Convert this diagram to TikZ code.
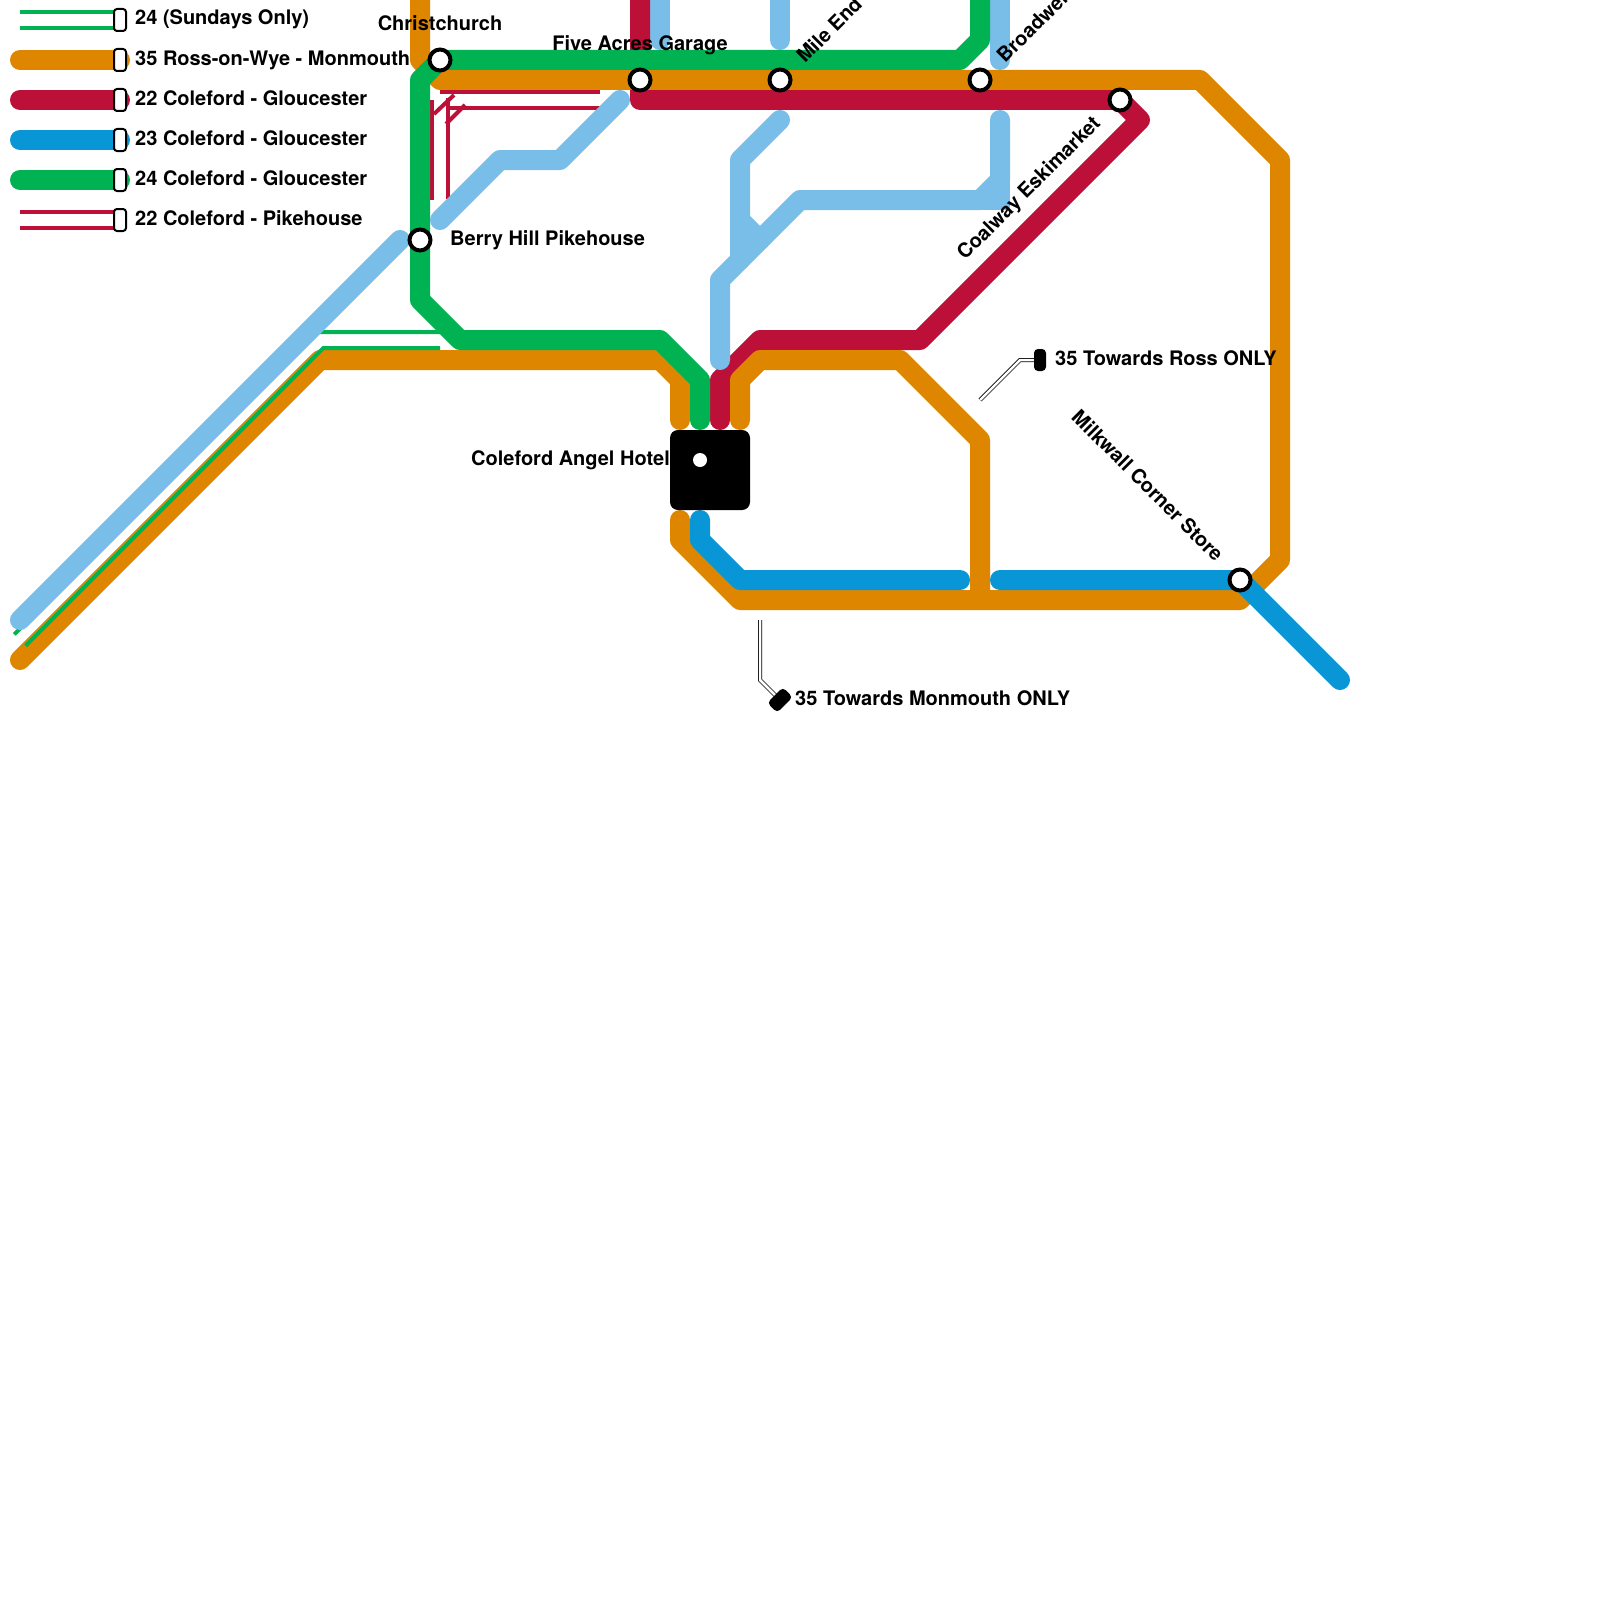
\documentclass[tikz,border=0pt]{standalone}
\usepackage{fontspec}
\setmainfont{TeX Gyre Heros}
\definecolor{lorange}{HTML}{DF8600}
\definecolor{lred}{HTML}{BD1038}
\definecolor{lblue}{HTML}{0896D7}
\definecolor{lsky}{HTML}{79BDE9}
\definecolor{lgreen}{HTML}{00B251}
\tikzset{
  route/.style={line width=20pt,line cap=round,line join=round,draw=#1},
  thinline/.style={line width=4pt,draw=#1},
  stationdot/.style={circle,draw=black,fill=white,line width=4pt,minimum size=21pt,inner sep=0pt},
  keystop/.style={rectangle,rounded corners=3pt,draw=black,fill=white,line width=2pt,minimum width=12pt,minimum height=22pt,inner sep=0pt},
  endstop/.style={rectangle,rounded corners=4pt,fill=black,minimum width=12pt,minimum height=22pt,inner sep=0pt},
  lab/.style={font=\fontsize{20}{24}\selectfont\bfseries,inner sep=0pt,text=black},
  outer/.style={line width=4pt,draw=black,line join=miter},
  inner/.style={line width=2.5pt,draw=white,line join=miter},
}
\begin{document}
\begin{tikzpicture}[x=1pt,y=-1pt]
\useasboundingbox (0,0) rectangle (1600,1600);
\fill[white] (0,0) rectangle (1600,1600);
\clip (0,0) rectangle (1600,1600);
% key
\draw[thinline=lgreen] (20,12) -- (120,12);
\draw[thinline=lgreen] (20,28) -- (120,28);
\draw[route=lorange] (20,60) -- (120,60);
\draw[route=lred] (20,100) -- (120,100);
\draw[route=lblue] (20,140) -- (120,140);
\draw[route=lgreen] (20,180) -- (120,180);
\draw[thinline=lred] (20,212) -- (120,212);
\draw[thinline=lred] (20,228) -- (120,228);
\node[keystop] (k1) at (120,20) {};
\node[keystop] (k2) at (120,60) {};
\node[keystop] (k3) at (120,100) {};
\node[keystop] (k4) at (120,140) {};
\node[keystop] (k5) at (120,180) {};
\node[keystop] (k6) at (120,220) {};
% sky stubs
\draw[route=lsky] (660,0) -- (660,40);
\draw[route=lsky] (780,0) -- (780,40);
\draw[route=lsky] (1000,0) -- (1000,60);
% red thin double
\draw[thinline=lred] (432,100) -- (432,200);
\draw[thinline=lred] (448,98) -- (448,199);
\draw[thinline=lred] (440,92) -- (600,92);
\draw[thinline=lred] (447,108) -- (600,108);
\draw[thinline=lred] (434,114) -- (454,95);
\draw[thinline=lred] (446,124) -- (465,105);
% red
\draw[route=lred] (640,0) -- (640,100) -- (1120,100) -- (1140,120) -- (920,340) -- (760,340) -- (720,380) -- (720,420);
% orange
\draw[route=lorange] (420,0) -- (420,60) -- (440,80) -- (1200,80) -- (1280,160) -- (1280,560) -- (1240,600) -- (740,600) -- (680,540) -- (680,520);
\draw[route=lorange] (20,660) -- (320,360) -- (660,360) -- (680,380) -- (680,420);
\draw[route=lorange] (740,420) -- (740,380) -- (760,360) -- (900,360) -- (980,440) -- (980,600);
% green
\draw[route=lgreen] (980,0) -- (980,40) -- (960,60) -- (440,60) -- (420,80) -- (420,300) -- (460,340) -- (660,340) -- (700,380) -- (700,420);
\draw[thinline=lgreen] (14.3,634.3) -- (316.7,332) -- (440,332);
\draw[thinline=lgreen] (25.7,645.7) -- (323.4,348) -- (440,348);
% blue
\draw[route=lblue] (700,520) -- (700,540) -- (740,580) -- (960,580);
\draw[route=lblue] (1000,580) -- (1240,580) -- (1340,680);
% sky
\draw[route=lsky] (20,620) -- (400,240);
\draw[route=lsky] (440,220) -- (500,160) -- (560,160) -- (620,100);
\draw[route=lsky] (780,120) -- (740,160) -- (740,260);
\draw[route=lsky] (740,220) -- (760,240);
\draw[route=lsky] (1000,120) -- (1000,180) -- (980,200) -- (800,200) -- (720,280) -- (720,360);
\draw[route=lsky,line cap=butt,line join=miter] (1000,170) -- (1000,200) -- (980,200);
% spur lines
\draw[outer] (980,400) -- (1020,360) -- (1040,360);
\draw[inner] (980,400) -- (1020,360) -- (1040,360);
\draw[outer] (760,620) -- (760,680) -- (780,700);
\draw[inner] (760,620) -- (760,680) -- (780,700);
\node[endstop] (ross) at (1040,360) {};
\node[endstop,minimum width=14pt,rotate=-45] (monmouth) at (780,700) {};
% interchange
\node[rectangle,rounded corners=8pt,fill=black,minimum size=80pt,inner sep=0pt] (angel) at (710,470) {};
\node[circle,fill=white,minimum size=14pt,inner sep=0pt] (angeldot) at (700,460) {};
% stations
\node[stationdot] (christchurch) at (440,60) {};
\node[stationdot] (fiveacres) at (640,80) {};
\node[stationdot] (mileend) at (780,80) {};
\node[stationdot] (broadwell) at (980,80) {};
\node[stationdot] (coalway) at (1120,100) {};
\node[stationdot] (berryhill) at (420,240) {};
\node[stationdot] (milkwall) at (1240,580) {};
% labels
\node[lab,anchor=base west] (t1) at (135,25) {24 (Sundays Only)};
\node[lab,anchor=base west] (t2) at (135,65.5) {35 Ross-on-Wye - Monmouth};
\node[lab,anchor=base west] (t3) at (135,105.5) {22 Coleford - Gloucester};
\node[lab,anchor=base west] (t4) at (135,145.5) {23 Coleford - Gloucester};
\node[lab,anchor=base west] (t5) at (135,185) {24 Coleford - Gloucester};
\node[lab,anchor=base west] (t6) at (135,225) {22 Coleford - Pikehouse};
\node[lab,anchor=base] (tc) at (440,31) {Christchurch};
\node[lab,anchor=base] (tf) at (640,51) {Five Acres Garage};
\node[lab,anchor=base west] (tb) at (450,245) {Berry Hill Pikehouse};
\node[lab,anchor=base east] (ta) at (670,465) {Coleford Angel Hotel};
\node[lab,anchor=base west] (tr) at (1055,365) {35 Towards Ross ONLY};
\node[lab,anchor=base west] (tm) at (795,705) {35 Towards Monmouth ONLY};
\node[lab,anchor=base west,rotate=45] (te) at (805,64) {Mile End};
\node[lab,anchor=base west,rotate=45] (tw) at (1005,64) {Broadwell};
\node[lab,anchor=base west,rotate=45] (ty) at (965,261) {Coalway Eskimarket};
\node[lab,anchor=base east,rotate=-45] (tk) at (1215,563) {Milkwall Corner Store};
\end{tikzpicture}
\end{document}
